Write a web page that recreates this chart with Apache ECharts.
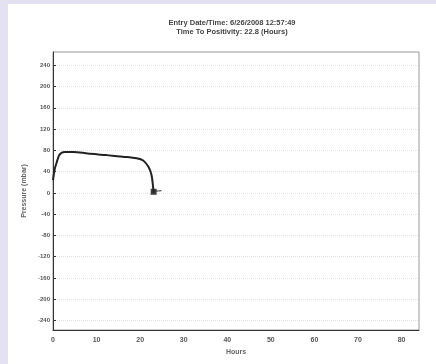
<!DOCTYPE html>
<html>
<head>
<meta charset="utf-8">
<script src="https://cdn.jsdelivr.net/npm/echarts@6/dist/echarts.min.js"></script>
<style>
  html, body { margin: 0; padding: 0; background: #e4e2f2; }
  #chart { position: absolute; left: 8px; top: 4px; width: 428px; height: 360px; background: #fff; }
</style>
</head>
<body>
<div id="chart"></div>
<script>
// pressure readings (hours, mbar)
const hours = [0, 0.4, 0.8, 1.5, 2.7, 4.7, 8, 12.3, 16, 19.2, 20.7, 21.9, 22.6, 23, 23.1];
const pressure = [24, 45, 56, 72, 77, 77, 74, 71, 68, 65, 61, 49, 34, 9, 0];
const endHours = [23.1];
const endPressure = [2];
const tailHours = [23.1, 24.9];
const tailPressure = [3, 4];
const yTicks = [-240, -200, -160, -120, -80, -40, 0, 40, 80, 120, 160, 200, 240];
const xTicks = [0, 10, 20, 30, 40, 50, 60, 70, 80];
const titleLines = ["Entry Date/Time: 6/26/2008 12:57:49", "Time To Positivity: 22.8 (Hours)"];

const chart = echarts.init(document.getElementById("chart"));

const zip = (a, b) => a.map((v, i) => [v, b[i]]);

const option = {
  animation: false,
  title: {
    text: titleLines.join("\n"),
    left: 219,
    top: 9,
    textAlign: "center",
    textStyle: {
      fontFamily: "Liberation Sans",
      fontSize: 7.5,
      fontWeight: "bold",
      color: "#444",
      lineHeight: 9
    }
  },
  grid: {
    left: 45,
    top: 48,
    right: 17,
    bottom: 34,
    show: true,
    borderColor: "#999",
    borderWidth: 1
  },
  xAxis: {
    type: "value",
    min: 0,
    max: 84,
    name: "Hours",
    nameLocation: "middle",
    nameGap: 16,
    nameTextStyle: { fontSize: 7, fontWeight: "bold", color: "#666", fontFamily: "Liberation Sans" },
    axisLine: { onZero: false, lineStyle: { color: "#333" } },
    axisTick: { show: false },
    axisLabel: {
      customValues: xTicks,
      fontSize: 7,
      fontWeight: "bold",
      color: "#555",
      margin: 7,
      fontFamily: "Liberation Sans"
    },
    splitLine: { show: false }
  },
  yAxis: {
    type: "value",
    min: -258,
    max: 265,
    name: "Pressure (mbar)",
    nameLocation: "middle",
    nameGap: 9,
    nameTextStyle: { fontSize: 7, fontWeight: "bold", color: "#666", fontFamily: "Liberation Sans" },
    axisLine: { show: true, lineStyle: { color: "#333" } },
    axisTick: { show: true, customValues: yTicks, length: 3, inside: true, lineStyle: { color: "#333" } },
    axisLabel: {
      customValues: yTicks,
      fontSize: 6,
      fontWeight: "bold",
      color: "#555",
      margin: 3,
      fontFamily: "Liberation Sans"
    },
    splitLine: {
      show: true,
      customValues: yTicks,
      lineStyle: { color: "#e2e2e2", type: "dotted" }
    }
  },
  series: [
    {
      type: "line",
      data: zip(hours, pressure),
      smooth: 0.3,
      showSymbol: false,
      lineStyle: { color: "#222", width: 2 }
    },
    {
      type: "line",
      data: zip(tailHours, tailPressure),
      showSymbol: false,
      lineStyle: { color: "#333", width: 1 }
    },
    {
      type: "scatter",
      data: zip(endHours, endPressure),
      symbol: "rect",
      symbolSize: 6,
      itemStyle: { color: "#111" }
    }
  ]
};

chart.setOption(option);
</script>
</body>
</html>
